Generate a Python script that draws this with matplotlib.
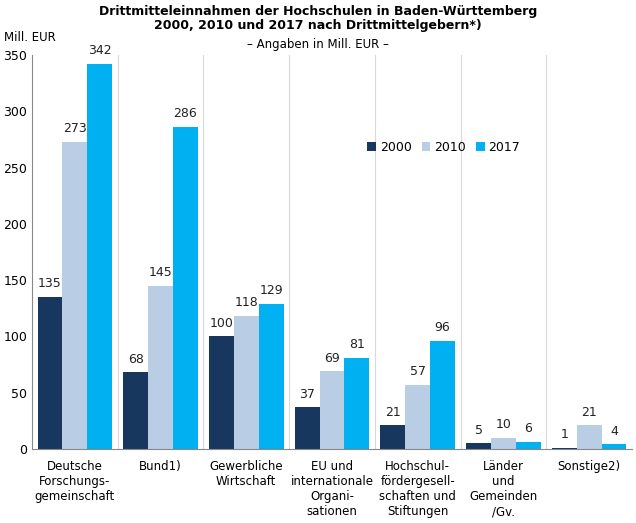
import matplotlib
matplotlib.use("Agg")
import matplotlib.pyplot as plt
import numpy as np

categories = ["Deutsche\nForschungs-\ngemeinschaft", "Bund1)", "Gewerbliche\nWirtschaft",
              "EU und\ninternationale\nOrgani-\nsationen", "Hochschul-\nfördergesell-\nschaften und\nStiftungen",
              "Länder\nund\nGemeinden\n/Gv.", "Sonstige2)"]
years = ["2000", "2010", "2017"]
v2000 = [135, 68, 100, 37, 21, 5, 1]
v2010 = [273, 145, 118, 69, 57, 10, 21]
v2017 = [342, 286, 129, 81, 96, 6, 4]
colors = ["#17375E", "#B9CDE5", "#00B0F0"]

fig = plt.figure(figsize=(6.36, 5.23), dpi=100)
ax = fig.add_axes([32/636, 74/523, 600/636, 394/523])
x = np.arange(len(categories))
w = 0.29
for i, (vals, c, lab) in enumerate(zip([v2000, v2010, v2017], colors, years)):
    pos = x + (i - 1) * w
    ax.bar(pos, vals, w, color=c, label=lab)
    for p, v in zip(pos, vals):
        ax.text(p, v + 6, str(v), ha="center", va="bottom", fontsize=9, color="#222222")
ax.set_xlim(-0.5, len(categories) - 0.5)
ax.set_ylim(0, 350)
ax.set_yticks(range(0, 351, 50))
ax.tick_params(axis="y", labelsize=9, length=0)
ax.set_xticks(x)
ax.set_xticklabels(categories, fontsize=8.5, va="top")
ax.tick_params(axis="x", length=0, pad=8)
for b in np.arange(0.5, len(categories) - 0.5, 1):
    ax.axvline(b, color="#D9D9D9", lw=0.8, zorder=0)
for s in ["top", "right"]:
    ax.spines[s].set_visible(False)
ax.spines["left"].set_color("#888888")
ax.spines["bottom"].set_color("#888888")
ax.legend(loc="upper left", bbox_to_anchor=(0.54, 0.81), ncol=3, frameon=False,
          fontsize=9, handlelength=0.7, handleheight=0.7, columnspacing=0.8, handletextpad=0.3)
fig.text(0.5, 0.99, "Drittmitteleinnahmen der Hochschulen in Baden-Württemberg\n2000, 2010 und 2017 nach Drittmittelgebern*)",
         ha="center", va="top", fontsize=9, fontweight="bold", linespacing=1.1)
fig.text(0.5, 0.928, "– Angaben in Mill. EUR –", ha="center", va="top", fontsize=8.5)
fig.text(4/636, 0.94, "Mill. EUR", ha="left", va="top", fontsize=8.5)
fig.savefig("out.png", dpi=100)
